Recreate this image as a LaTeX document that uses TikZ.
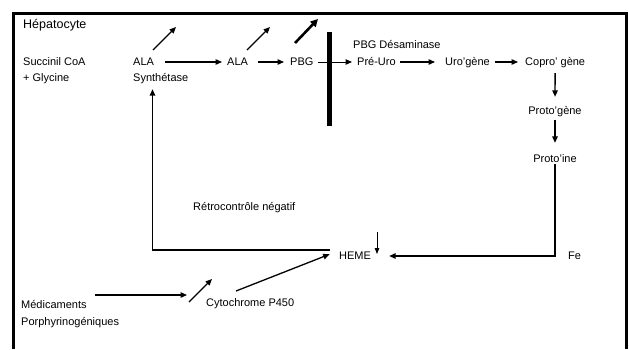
\documentclass[tikz,border=0pt]{standalone}
\usepackage{fontspec}
\setmainfont{Liberation Sans}
\usetikzlibrary{arrows.meta}

\begin{document}
\begin{tikzpicture}[x=1bp, y=-1bp,
  lbl/.style={anchor=west, inner sep=0pt, text height=9bp, text depth=1.5bp, font=\fontsize{11bp}{13bp}\selectfont},
  arr/.style={line width=1.3bp, -{Triangle[length=6.5bp, width=5.5bp]}},
  thin arr/.style={line width=0.9bp, -{Triangle[length=6bp, width=4.5bp]}},
  thick arr/.style={line width=2.6bp, -{Triangle[length=7.5bp, width=7.5bp]}}]
\useasboundingbox (0,0) rectangle (629,349);

\draw[line width=2.5bp] (13.5,349) -- (13.5,13.5) -- (626.5,13.5) -- (626.5,349);

\node[lbl, font=\fontsize{12.5bp}{14bp}\selectfont] (hep) at (23,25) {Hépatocyte};
\node[lbl] (succ) at (23,62) {Succinil CoA};
\node[lbl] (gly) at (23,78) {+ Glycine};
\node[lbl] (ala1) at (133,62) {ALA};
\node[lbl] (synth) at (133,78) {Synthétase};
\node[lbl] (ala2) at (227,62) {ALA};
\node[lbl] (pbg) at (290,62) {PBG};
\node[lbl] (desam) at (353,45) {PBG Désaminase};
\node[lbl] (preuro) at (357,62) {Pré-Uro};
\node[lbl] (uro) at (445,62) {Uro'gène};
\node[lbl] (copro) at (525,62) {Copro' gène};
\node[lbl, anchor=center] (protog) at (555,111) {Proto'gène};
\node[lbl, anchor=center] (protoi) at (555,159) {Proto'ine};
\node[lbl] (retro) at (193,207) {Rétrocontrôle négatif};
\node[lbl] (heme) at (339,256) {HEME};
\node[lbl] (fe) at (568,256) {Fe};
\node[lbl] (cyto) at (206,303) {Cytochrome P450};
\node[lbl] (medic) at (21,305) {Médicaments};
\node[lbl] (porph) at (21,322) {Porphyrinogéniques};

\draw[arr, shorten <=11bp, shorten >=5bp] (ala1.east) -- (ala2.west);
\draw[arr, shorten <=10bp, shorten >=6bp] (ala2.east) -- (pbg.west);
\draw[arr, line width=1bp, shorten <=4bp, shorten >=5bp] (pbg.east) -- (preuro.west);
\draw[arr, shorten <=4.5bp, shorten >=10bp] (preuro.east) -- (uro.west);
\draw[arr, shorten <=5bp, shorten >=7bp] (uro.east) -- (copro.west);
\draw[arr, shorten <=5.75bp, shorten >=8.75bp] (copro.south) -- (protog.north);
\draw[arr, shorten <=3.75bp, shorten >=10.75bp] (protog.south) -- (protoi.north);
\draw[arr, line width=1.5bp, shorten >=18bp] (protoi.south) |- (heme.east);

\foreach \i/\xa/\xb in {1/153/176, 2/247/270}
  {\coordinate (up\i s) at (\xa,50);
   \coordinate (up\i e) at (\xb,27);
   \draw[arr] (up\i s) -- (up\i e);}
\coordinate (up3s) at (295,43);
\coordinate (up3e) at (318,19);
\draw[thick arr] (up3s) -- (up3e);

\coordinate (bartop) at (329.5,32);
\coordinate (barbot) at (329.5,126);
\draw[line width=5bp] (bartop) -- (barbot);

\coordinate (fbstart) at (330,250);
\coordinate (fbcorner) at (152.5,250);
\draw[arr, line width=1.5bp, shorten >=5.75bp] (fbstart) -- (fbcorner) -- (fbcorner |- synth.south);

\coordinate (hemetop) at (377,232);
\draw[thin arr, shorten >=2bp] (hemetop) -- (hemetop |- heme.east);

\coordinate (cytoout) at (236,291);
\draw[arr, shorten >=10bp] (cytoout) -- (heme.north west);

\coordinate (drugout) at (95,295);
\coordinate (drugin) at (187,295);
\draw[arr] (drugout) -- (drugin);
\coordinate (cypa) at (189,302);
\coordinate (cypb) at (212,279);
\draw[arr] (cypa) -- (cypb);

\end{tikzpicture}
\end{document}
